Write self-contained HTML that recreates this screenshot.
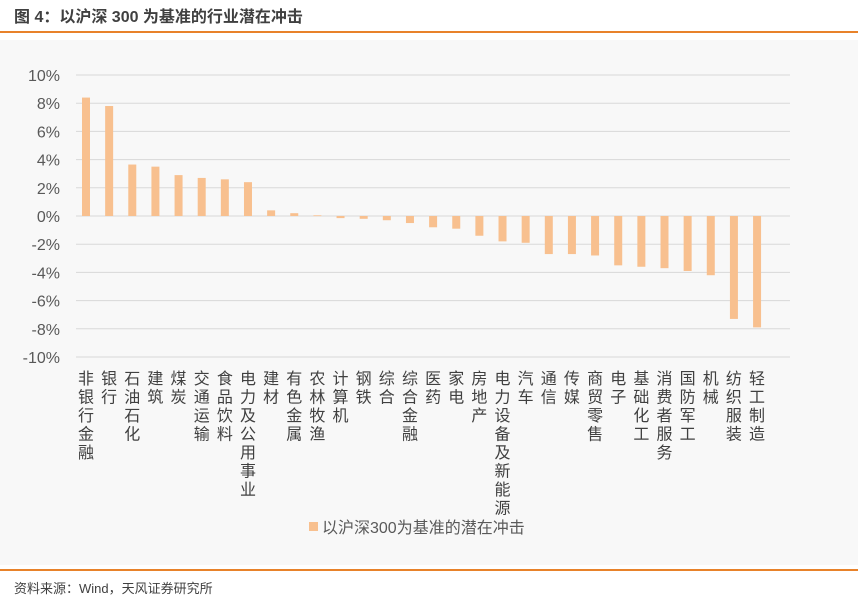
<!DOCTYPE html><html><head><meta charset="utf-8"><style>
body{margin:0;width:858px;height:604px;background:#fff;overflow:hidden;font-family:"Liberation Sans","Noto Sans CJK SC",sans-serif}
</style></head><body>
<svg id="s" width="858" height="604" xmlns="http://www.w3.org/2000/svg" font-family="Liberation Sans, Noto Sans CJK SC, sans-serif"></svg>
<script>
const s=document.getElementById('s');let h='';
h+='<rect x="0" y="40" width="858" height="525" fill="#f8f8f8"/>';
h+='<text x="14" y="22" font-size="16" font-weight="bold" fill="#404040">图 4：以沪深 300 为基准的行业潜在冲击</text>';
h+='<rect x="0" y="31" width="858" height="2" fill="#e8822a"/>';
h+='<rect x="0" y="569" width="858" height="2" fill="#e8822a"/>';
h+='<text x="14" y="593" font-size="13" fill="#404040">资料来源：Wind，天风证券研究所</text>';
const y0=216,k=14.1;
for(let v=10;v>=-10;v-=2){const y=y0-v*k;h+=`<line x1="76" x2="790" y1="${y}" y2="${y}" stroke="#d9d9d9"/>`;h+=`<text x="60" y="${y+6}" font-size="16" fill="#595959" text-anchor="end">${v}%</text>`;}
const d=[["非银行金融",8.4],["银行",7.8],["石油石化",3.65],["建筑",3.5],["煤炭",2.9],["交通运输",2.7],["食品饮料",2.6],["电力及公用事业",2.4],["建材",0.4],["有色金属",0.2],["农林牧渔",0.05],["计算机",-0.15],["钢铁",-0.2],["综合",-0.3],["综合金融",-0.5],["医药",-0.8],["家电",-0.9],["房地产",-1.4],["电力设备及新能源",-1.8],["汽车",-1.9],["通信",-2.7],["传媒",-2.7],["商贸零售",-2.8],["电子",-3.5],["基础化工",-3.6],["消费者服务",-3.7],["国防军工",-3.9],["机械",-4.2],["纺织服装",-7.3],["轻工制造",-7.9]];
d.forEach((e,i)=>{const x=86+i*23.14;const t=y0-Math.max(e[1],0)*k,b=y0-Math.min(e[1],0)*k;
h+=`<rect x="${x-4}" y="${t}" width="8" height="${Math.max(b-t,0.8)}" fill="#f8c08f"/>`;
[...e[0]].forEach((c,j)=>{h+=`<text x="${x}" y="${384+j*18.5}" font-size="16" fill="#404040" text-anchor="middle">${c}</text>`;});});
h+='<rect x="309" y="522" width="9" height="9" fill="#f8c08f"/>';
h+='<text x="322" y="533" font-size="16" fill="#595959">以沪深300为基准的潜在冲击</text>';
s.innerHTML=h;
</script></body></html>
